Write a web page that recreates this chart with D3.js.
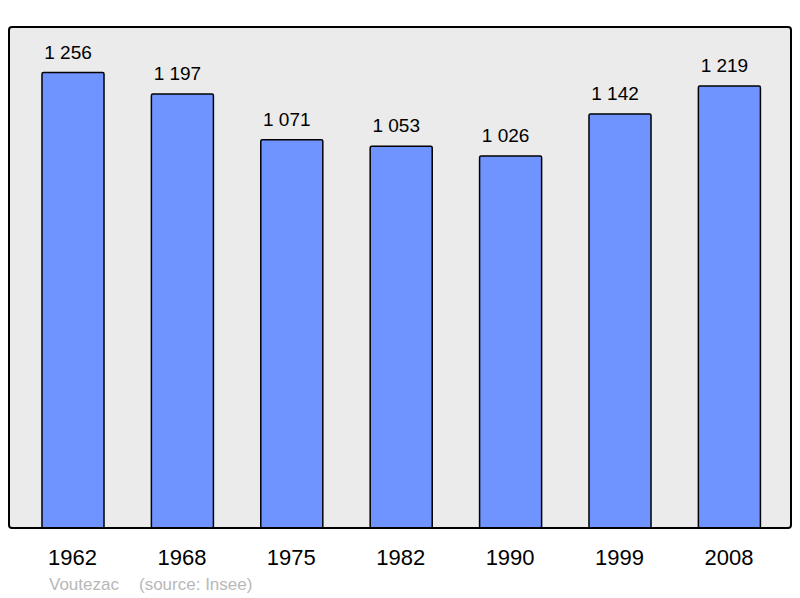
<!DOCTYPE html>
<html>
<head>
<meta charset="utf-8">
<script src="https://cdn.jsdelivr.net/npm/d3@7"></script>
<style>
  html, body { margin: 0; padding: 0; background: #ffffff; }
  svg { display: block; font-family: "Liberation Sans", Arial, sans-serif; }
</style>
</head>
<body>
<svg id="chart" width="800" height="598"></svg>
<script>
const years = ["1962", "1968", "1975", "1982", "1990", "1999", "2008"];
const population = [1256, 1197, 1071, 1053, 1026, 1142, 1219];
const valueLabels = ["1 256", "1 197", "1 071", "1 053", "1 026", "1 142", "1 219"];
const commune = "Voutezac";
const source = "(source: Insee)";

const svg = d3.select("#chart");
const frame = { left: 9, top: 27, right: 791, bottom: 528 };

svg.append("rect")
  .attr("x", frame.left).attr("y", frame.top)
  .attr("width", frame.right - frame.left)
  .attr("height", frame.bottom - frame.top)
  .attr("rx", 3).attr("ry", 3)
  .attr("fill", "#ebebeb");

const x = d3.scaleBand()
  .domain(years)
  .range([18.3, 784.1])
  .paddingInner(0.433)
  .paddingOuter(0.2165);

const y = d3.scaleLinear()
  .domain([0, d3.max(population) * 1.1])
  .range([frame.bottom, frame.top]);

const data = years.map((yr, i) => ({ year: yr, value: population[i], label: valueLabels[i] }));

svg.append("g").selectAll("rect")
  .data(data).join("rect")
  .attr("x", d => x(d.year))
  .attr("y", d => y(d.value))
  .attr("width", x.bandwidth())
  .attr("height", d => frame.bottom - y(d.value))
  .attr("rx", 1.5)
  .attr("fill", "#7094ff")
  .attr("stroke", "#000")
  .attr("stroke-width", 1.5);

svg.append("g").selectAll("text")
  .data(data).join("text")
  .attr("x", d => x(d.year) + x.bandwidth() / 2 - 5)
  .attr("y", d => y(d.value) - 14)
  .attr("text-anchor", "middle")
  .attr("font-size", 19)
  .attr("fill", "#000")
  .text(d => d.label);

// frame border on top
svg.append("rect")
  .attr("x", frame.left).attr("y", frame.top)
  .attr("width", frame.right - frame.left)
  .attr("height", frame.bottom - frame.top)
  .attr("rx", 3).attr("ry", 3)
  .attr("fill", "none")
  .attr("stroke", "#000")
  .attr("stroke-width", 2);

// x axis labels
const xAxis = d3.axisBottom(x).tickSize(0).tickPadding(0);
const gx = svg.append("g").attr("transform", `translate(-0.5, 548)`).call(xAxis);
gx.select(".domain").remove();
gx.selectAll("text")
  .attr("font-size", 22)
  .attr("font-family", "Liberation Sans, Arial, sans-serif")
  .attr("fill", "#000")
  .attr("dy", "0.75em");

svg.append("text")
  .attr("x", 49).attr("y", 590)
  .attr("font-size", 17)
  .attr("fill", "#b8b8b8")
  .text(commune);
svg.append("text")
  .attr("x", 139).attr("y", 590)
  .attr("font-size", 17)
  .attr("fill", "#b8b8b8")
  .text(source);
</script>
</body>
</html>
